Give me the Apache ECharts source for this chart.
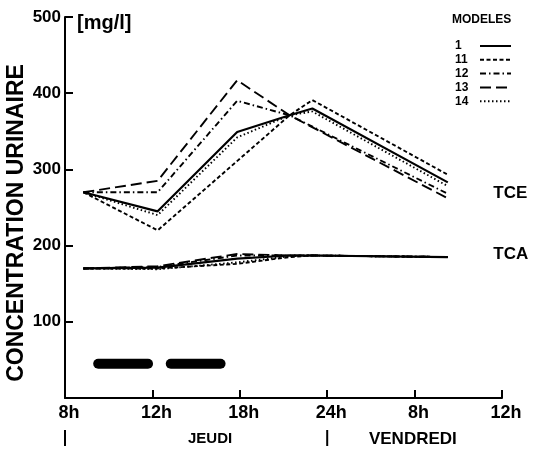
<!DOCTYPE html>
<html>
<head>
<meta charset="utf-8">
<script src="https://cdn.jsdelivr.net/npm/echarts@6/dist/echarts.min.js"></script>
<style>
  html, body { margin: 0; padding: 0; background: #fff; }
  #chart { width: 546px; height: 450px; }
</style>
</head>
<body>
<div id="chart"></div>
<script>
// Horizontal positions are expressed in axis slots:
// 0 = 8h (Thursday), 1 = 12h, 2 = 18h, 3 = 24h, 4 = 8h (Friday), 5 = 12h
const slotLabels = ['8h', '12h', '18h', '24h', '8h', '12h'];
const sampleSlots = [0.21, 1.06, 1.97, 2.57, 2.83, 4.38];

const modelNames = ['1', '11', '12', '13', '14'];

// Urinary TCE concentration (mg/l) per model
const tce1  = [270, 245, 349, 371, 380, 283];
const tce11 = [270, 220, null, 371, 391, 293];
const tce12 = [270, 270, 390, 371, null, 268];
const tce13 = [270, 285, 417, 371, null, 262];
const tce14 = [270, 240, 342, 371, 376, 278];

// Urinary TCA concentration (mg/l) per model
const tca1  = [170, 171, 183, 187, 187, 185];
const tca11 = [170, 170, 176, 185, 187, 185];
const tca12 = [170, 172, 187, 187, 187, 185];
const tca13 = [170, 173, 189, 187, 187, 185];
const tca14 = [170, 169, 178, 186, 187, 185];

// Exposure periods (slot positions) drawn as thick bars
const exposureStart = [0.38, 1.21];
const exposureEnd   = [0.95, 1.78];
const exposureLevel = 45;

const FONT = 'Liberation Sans';
const INK = '#000';

const lineTypes = {
  '1':  'solid',
  '11': [4, 2.5],
  '12': [6, 3, 1.5, 3],
  '13': [11, 5],
  '14': [1.5, 2.5]
};

const tceByModel = { '1': tce1, '11': tce11, '12': tce12, '13': tce13, '14': tce14 };
const tcaByModel = { '1': tca1, '11': tca11, '12': tca12, '13': tca13, '14': tca14 };

function pairs(values) {
  const out = [];
  values.forEach((v, i) => { if (v !== null) out.push([sampleSlots[i], v]); });
  return out;
}

const series = [];
modelNames.forEach(name => {
  [tceByModel[name], tcaByModel[name]].forEach(values => {
    series.push({
      name: name,
      type: 'line',
      data: pairs(values),
      symbol: 'none',
      silent: true,
      animation: false,
      color: INK,
      lineStyle: { color: INK, width: name === '1' ? 2.2 : 1.9, type: lineTypes[name] }
    });
  });
});

exposureStart.forEach((s, i) => {
  series.push({
    name: 'exposition',
    type: 'line',
    data: [[s, exposureLevel], [exposureEnd[i], exposureLevel]],
    symbol: 'none',
    silent: true,
    animation: false,
    color: INK,
    lineStyle: { color: INK, width: 10, cap: 'round' }
  });
});

const chart = echarts.init(document.getElementById('chart'), null, { renderer: 'canvas' });

chart.setOption({
  animation: false,
  backgroundColor: '#fff',
  grid: { left: 65, right: 44, top: 17, bottom: 52 },
  xAxis: {
    type: 'value',
    min: 0, max: 5, interval: 1,
    axisLine: { show: true, lineStyle: { color: INK, width: 2 } },
    axisTick: { show: true, inside: true, length: 8, lineStyle: { color: INK, width: 2 } },
    splitLine: { show: false },
    axisLabel: {
      margin: 6,
      padding: [0, 0, 0, 8],
      color: INK, fontFamily: FONT, fontWeight: 'bold', fontSize: 18,
      formatter: v => slotLabels[Math.round(v)]
    }
  },
  yAxis: {
    type: 'value',
    min: 0, max: 500, interval: 100,
    axisLine: { show: true, lineStyle: { color: INK, width: 2 } },
    axisTick: { show: true, inside: true, length: 8, lineStyle: { color: INK, width: 2 } },
    splitLine: { show: false },
    axisLabel: {
      margin: 4,
      color: INK, fontFamily: FONT, fontWeight: 'bold', fontSize: 17,
      formatter: v => (v === 0 ? '' : String(v))
    }
  },
  legend: {
    data: modelNames,
    orient: 'vertical',
    left: 450, top: 35,
    align: 'right',
    itemWidth: 31, itemHeight: 10, itemGap: 1.8,
    selectedMode: false,
    itemStyle: { opacity: 0 },
    formatter: name => '{n|' + name + '}',
    textStyle: {
      color: INK, fontFamily: FONT, fontWeight: 'bold', fontSize: 12,
      rich: { n: { width: 20, align: 'left', color: INK, fontFamily: FONT, fontWeight: 'bold', fontSize: 12 } }
    }
  },
  series: series
});

// Annotations anchored to the axes
const px = (x, y) => chart.convertToPixel({ gridIndex: 0 }, [x, y]);
const tcePos = px(4.9, 269);
const tcaPos = px(4.9, 188);
const thuPos = px(1.66, 0);
const friPos = px(3.98, 0);
const m0 = px(0, 0);
const m3 = px(3, 0);

const textStyle = (extra) => Object.assign({ fill: INK, fontFamily: FONT, fontWeight: 'bold' }, extra);

chart.setOption({
  graphic: [
    { type: 'text', x: 17, y: 223, rotation: Math.PI / 2,
      style: textStyle({ text: 'CONCENTRATION URINAIRE', fontSize: 23, align: 'center', verticalAlign: 'middle' }) },
    { type: 'text', x: 77, y: 23,
      style: textStyle({ text: '[mg/l]', fontSize: 20, align: 'left', verticalAlign: 'middle' }) },
    { type: 'text', x: 452, y: 20,
      style: textStyle({ text: 'MODELES', fontSize: 12, align: 'left', verticalAlign: 'middle' }) },
    { type: 'text', x: tcePos[0], y: tcePos[1],
      style: textStyle({ text: 'TCE', fontSize: 17, align: 'left', verticalAlign: 'middle' }) },
    { type: 'text', x: tcaPos[0], y: tcaPos[1],
      style: textStyle({ text: 'TCA', fontSize: 17, align: 'left', verticalAlign: 'middle' }) },
    { type: 'text', x: thuPos[0], y: 439,
      style: textStyle({ text: 'JEUDI', fontSize: 15, align: 'center', verticalAlign: 'middle' }) },
    { type: 'text', x: friPos[0], y: 439,
      style: textStyle({ text: 'VENDREDI', fontSize: 17, align: 'center', verticalAlign: 'middle' }) },
    { type: 'line', shape: { x1: m0[0], y1: 430, x2: m0[0], y2: 446 }, style: { stroke: INK, lineWidth: 2 } },
    { type: 'line', shape: { x1: m3[0], y1: 430, x2: m3[0], y2: 446 }, style: { stroke: INK, lineWidth: 2 } }
  ]
});
</script>
</body>
</html>
